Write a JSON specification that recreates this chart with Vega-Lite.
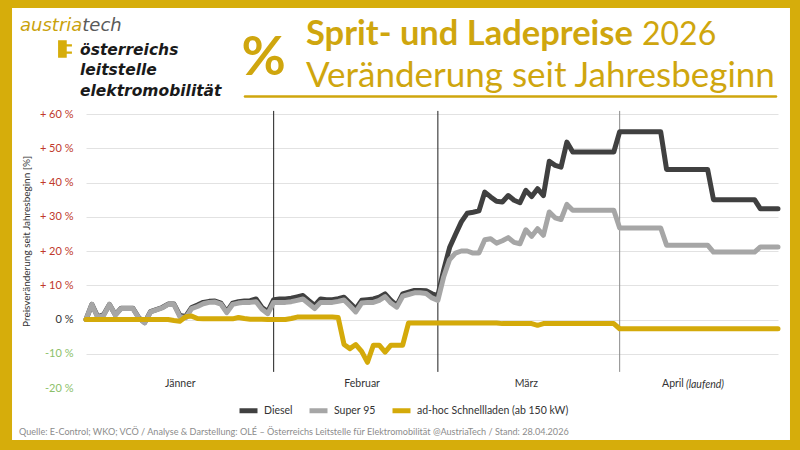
{
"$schema": "https://vega.github.io/schema/vega-lite/v6.json",
"width": 692, "height": 274,
"autosize": {"type": "none"},
"padding": {"left": 86, "top": 114, "right": 22, "bottom": 62},
"background": "white",
"config": {"view": {"stroke": null}, "font": "Lato", "axis": {"labelOverlap": false}},
"resolve": {"axis": {"x": "independent", "y": "independent"}, "scale": {"x": "shared", "y": "shared"}},
"datasets": {"preise": [
{"Tag":0,"Diesel":0,"Super":0,"Laden":0},
{"Tag":1,"Diesel":4.4,"Super":4.4,"Laden":0},
{"Tag":2,"Diesel":0.8,"Super":0.6,"Laden":0},
{"Tag":3,"Diesel":1.4,"Super":1.2,"Laden":0},
{"Tag":4,"Diesel":4.4,"Super":4.4,"Laden":0},
{"Tag":5,"Diesel":1.4,"Super":1.3,"Laden":0},
{"Tag":6,"Diesel":3.3,"Super":3.2,"Laden":0},
{"Tag":7,"Diesel":3.3,"Super":3.2,"Laden":0},
{"Tag":8,"Diesel":3.3,"Super":3.2,"Laden":0},
{"Tag":9,"Diesel":0.5,"Super":0.4,"Laden":0},
{"Tag":10,"Diesel":-0.9,"Super":-1.0,"Laden":0},
{"Tag":11,"Diesel":2.3,"Super":2.2,"Laden":0},
{"Tag":12,"Diesel":2.9,"Super":2.8,"Laden":0},
{"Tag":13,"Diesel":3.5,"Super":3.4,"Laden":0},
{"Tag":14,"Diesel":4.5,"Super":4.4,"Laden":0},
{"Tag":15,"Diesel":4.5,"Super":4.4,"Laden":-0.3},
{"Tag":16,"Diesel":1.2,"Super":0.8,"Laden":-0.5},
{"Tag":17,"Diesel":0.9,"Super":0.5,"Laden":0.8},
{"Tag":18,"Diesel":3.5,"Super":3.2,"Laden":1.0},
{"Tag":19,"Diesel":4.2,"Super":3.8,"Laden":0.3},
{"Tag":20,"Diesel":5.0,"Super":4.6,"Laden":0.2},
{"Tag":21,"Diesel":5.3,"Super":5.0,"Laden":0.2},
{"Tag":22,"Diesel":5.4,"Super":5.1,"Laden":0.2},
{"Tag":23,"Diesel":4.8,"Super":4.5,"Laden":0.2},
{"Tag":24,"Diesel":2.3,"Super":2.0,"Laden":0.2},
{"Tag":25,"Diesel":4.8,"Super":4.4,"Laden":0.2},
{"Tag":26,"Diesel":5.2,"Super":4.8,"Laden":0.6},
{"Tag":27,"Diesel":5.4,"Super":5.0,"Laden":0.3},
{"Tag":28,"Diesel":5.5,"Super":5.0,"Laden":0.1},
{"Tag":29,"Diesel":6.0,"Super":5.2,"Laden":0.1},
{"Tag":30,"Diesel":3.5,"Super":3.0,"Laden":0.1},
{"Tag":31,"Diesel":2.3,"Super":1.7,"Laden":0},
{"Tag":32,"Diesel":5.8,"Super":5.0,"Laden":0},
{"Tag":33,"Diesel":6.0,"Super":5.0,"Laden":0},
{"Tag":34,"Diesel":6.0,"Super":5.0,"Laden":0},
{"Tag":35,"Diesel":6.2,"Super":5.2,"Laden":0.3},
{"Tag":36,"Diesel":6.6,"Super":5.6,"Laden":0.7},
{"Tag":37,"Diesel":7.0,"Super":6.0,"Laden":0.7},
{"Tag":38,"Diesel":5.5,"Super":4.6,"Laden":0.7},
{"Tag":39,"Diesel":4.1,"Super":3.2,"Laden":0.7},
{"Tag":40,"Diesel":6.0,"Super":5.0,"Laden":0.7},
{"Tag":41,"Diesel":5.8,"Super":5.0,"Laden":0.7},
{"Tag":42,"Diesel":5.8,"Super":5.0,"Laden":0.7},
{"Tag":43,"Diesel":6.1,"Super":5.3,"Laden":0.6},
{"Tag":44,"Diesel":6.5,"Super":5.7,"Laden":-7.3},
{"Tag":45,"Diesel":4.8,"Super":4.0,"Laden":-8.5},
{"Tag":46,"Diesel":3.1,"Super":2.2,"Laden":-7.3},
{"Tag":47,"Diesel":5.6,"Super":4.8,"Laden":-9.3},
{"Tag":48,"Diesel":5.8,"Super":5.0,"Laden":-12.5},
{"Tag":49,"Diesel":6.0,"Super":5.0,"Laden":-7.5},
{"Tag":50,"Diesel":6.5,"Super":5.6,"Laden":-7.5},
{"Tag":51,"Diesel":7.5,"Super":6.7,"Laden":-9.5},
{"Tag":52,"Diesel":5.6,"Super":4.8,"Laden":-7.5},
{"Tag":53,"Diesel":4.1,"Super":3.6,"Laden":-7.5},
{"Tag":54,"Diesel":7.5,"Super":6.8,"Laden":-7.5},
{"Tag":55,"Diesel":8.0,"Super":7.3,"Laden":-1.0},
{"Tag":56,"Diesel":8.5,"Super":7.8,"Laden":-1.0},
{"Tag":57,"Diesel":8.5,"Super":7.8,"Laden":-1.0},
{"Tag":58,"Diesel":8.4,"Super":7.6,"Laden":-1.0},
{"Tag":59,"Diesel":7.5,"Super":6.3,"Laden":-1.0},
{"Tag":60,"Diesel":7.0,"Super":5.6,"Laden":-1.0},
{"Tag":61,"Diesel":14.5,"Super":12.5,"Laden":-1.0},
{"Tag":62,"Diesel":21.0,"Super":17.5,"Laden":-1.0},
{"Tag":63,"Diesel":24.8,"Super":19.4,"Laden":-1.0},
{"Tag":64,"Diesel":28.5,"Super":20.0,"Laden":-1.0},
{"Tag":65,"Diesel":31.0,"Super":20.0,"Laden":-1.0},
{"Tag":66,"Diesel":31.3,"Super":19.4,"Laden":-1.0},
{"Tag":67,"Diesel":31.7,"Super":19.4,"Laden":-1.0},
{"Tag":68,"Diesel":37.2,"Super":23.3,"Laden":-1.0},
{"Tag":69,"Diesel":35.8,"Super":23.6,"Laden":-1.0},
{"Tag":70,"Diesel":34.5,"Super":22.3,"Laden":-1.0},
{"Tag":71,"Diesel":34.3,"Super":23.0,"Laden":-1.2},
{"Tag":72,"Diesel":36.2,"Super":23.9,"Laden":-1.2},
{"Tag":73,"Diesel":34.8,"Super":22.5,"Laden":-1.2},
{"Tag":74,"Diesel":34.1,"Super":22.1,"Laden":-1.2},
{"Tag":75,"Diesel":37.7,"Super":26.2,"Laden":-1.2},
{"Tag":76,"Diesel":35.9,"Super":24.3,"Laden":-1.2},
{"Tag":77,"Diesel":38.2,"Super":26.5,"Laden":-1.7},
{"Tag":78,"Diesel":36.2,"Super":24.6,"Laden":-1.2},
{"Tag":79,"Diesel":46.2,"Super":31.4,"Laden":-1.2},
{"Tag":80,"Diesel":45.0,"Super":29.7,"Laden":-1.2},
{"Tag":81,"Diesel":44.5,"Super":29.2,"Laden":-1.2},
{"Tag":82,"Diesel":51.8,"Super":33.6,"Laden":-1.2},
{"Tag":83,"Diesel":48.9,"Super":31.9,"Laden":-1.2},
{"Tag":84,"Diesel":48.9,"Super":31.9,"Laden":-1.2},
{"Tag":85,"Diesel":48.9,"Super":31.9,"Laden":-1.2},
{"Tag":86,"Diesel":48.9,"Super":31.9,"Laden":-1.2},
{"Tag":87,"Diesel":48.9,"Super":31.9,"Laden":-1.2},
{"Tag":88,"Diesel":48.9,"Super":31.9,"Laden":-1.2},
{"Tag":89,"Diesel":48.9,"Super":31.9,"Laden":-1.2},
{"Tag":90,"Diesel":48.9,"Super":31.9,"Laden":-1.2},
{"Tag":91,"Diesel":54.8,"Super":26.7,"Laden":-2.7},
{"Tag":92,"Diesel":54.8,"Super":26.7,"Laden":-2.7},
{"Tag":93,"Diesel":54.8,"Super":26.7,"Laden":-2.7},
{"Tag":94,"Diesel":54.8,"Super":26.7,"Laden":-2.7},
{"Tag":95,"Diesel":54.8,"Super":26.7,"Laden":-2.7},
{"Tag":96,"Diesel":54.8,"Super":26.7,"Laden":-2.7},
{"Tag":97,"Diesel":54.8,"Super":26.7,"Laden":-2.7},
{"Tag":98,"Diesel":54.8,"Super":26.7,"Laden":-2.7},
{"Tag":99,"Diesel":43.8,"Super":21.7,"Laden":-2.7},
{"Tag":100,"Diesel":43.8,"Super":21.7,"Laden":-2.7},
{"Tag":101,"Diesel":43.8,"Super":21.7,"Laden":-2.7},
{"Tag":102,"Diesel":43.8,"Super":21.7,"Laden":-2.7},
{"Tag":103,"Diesel":43.8,"Super":21.7,"Laden":-2.7},
{"Tag":104,"Diesel":43.8,"Super":21.7,"Laden":-2.7},
{"Tag":105,"Diesel":43.8,"Super":21.7,"Laden":-2.7},
{"Tag":106,"Diesel":43.8,"Super":21.7,"Laden":-2.7},
{"Tag":107,"Diesel":35.0,"Super":19.7,"Laden":-2.7},
{"Tag":108,"Diesel":35.0,"Super":19.7,"Laden":-2.7},
{"Tag":109,"Diesel":35.0,"Super":19.7,"Laden":-2.7},
{"Tag":110,"Diesel":35.0,"Super":19.7,"Laden":-2.7},
{"Tag":111,"Diesel":35.0,"Super":19.7,"Laden":-2.7},
{"Tag":112,"Diesel":35.0,"Super":19.7,"Laden":-2.7},
{"Tag":113,"Diesel":35.0,"Super":19.7,"Laden":-2.7},
{"Tag":114,"Diesel":35.0,"Super":19.7,"Laden":-2.7},
{"Tag":115,"Diesel":32.3,"Super":21.2,"Laden":-2.7},
{"Tag":116,"Diesel":32.3,"Super":21.2,"Laden":-2.7},
{"Tag":117,"Diesel":32.3,"Super":21.2,"Laden":-2.7},
{"Tag":118,"Diesel":32.3,"Super":21.2,"Laden":-2.7}
]},
"layer": [
{"data": {"values": [{}]},
 "mark": {"type": "rect", "filled": false, "stroke": "#D6AD0B", "strokeWidth": 20, "fillOpacity": 0},
 "encoding": {"x": {"datum": -14.32, "axis": null}, "x2": {"datum": 121.75}, "y": {"datum": 93.87, "axis": null}, "y2": {"datum": -38.1}}},
{"data": {"values": [{"Tag": 32}, {"Tag": 60}, {"Tag": 91}]},
 "mark": {"type": "rule", "strokeWidth": 1},
 "encoding": {"x": {"field": "Tag", "type": "quantitative", "axis": null}, "y": {"datum": 60.9, "axis": null}, "y2": {"datum": -15.3},
   "stroke": {"condition": {"test": "datum.Tag === 91", "value": "#8a8a8a"}, "value": "#1e1e1e"}}},
{"data": {"name": "preise"},
 "transform": [{"fold": ["Diesel", "Super", "Laden"], "as": ["Serie", "Wert"]}],
 "mark": {"type": "line", "strokeJoin": "round", "strokeCap": "round"},
 "encoding": {
   "x": {"field": "Tag", "type": "quantitative", "scale": {"domain": [0, 118], "nice": false, "zero": false},
     "axis": {"values": [16, 47, 75, 100], "labelExpr": "datum.value == 16 ? 'Jänner' : datum.value == 47 ? 'Februar' : datum.value == 75 ? 'März' : 'April'",
       "domain": false, "ticks": false, "tickSize": 0, "grid": false, "labelPadding": -10, "labelFontSize": 10.5, "labelColor": "#333333",
       "title": null, "labelFlush": false, "labelOverlap": false, "labelBound": false}},
   "y": {"field": "Wert", "type": "quantitative", "scale": {"domain": [-20, 60], "nice": false},
     "axis": {"values": [-20, -10, 0, 10, 20, 30, 40, 50, 60], "tickCount": 9,
       "labelExpr": "datum.value > 0 ? '+ ' + datum.value + ' %' : datum.value + ' %'",
       "labelColor": {"condition": [{"test": "datum.value > 0", "value": "#c0392b"}, {"test": "datum.value < 0", "value": "#8cbf6a"}], "value": "#333333"},
       "domain": false, "ticks": false, "grid": true, "gridColor": "#e2e2e2", "gridWidth": 1,
       "gridOpacity": {"condition": {"test": "datum.value === -20", "value": 0}, "value": 1},
       "labelPadding": 13, "labelFontSize": 11, "labelOverlap": false, "labelBound": false, "labelFlush": false,
       "title": "Preisveränderung seit Jahresbeginn [%]", "titleFontSize": 10, "titleFontWeight": "normal", "titleColor": "#333333",
       "titleX": -60, "titleY": 127, "titleAngle": -90, "titleBaseline": "middle", "titleAlign": "center"}},
   "color": {"field": "Serie", "type": "nominal",
     "scale": {"domain": ["Diesel", "Super", "Laden"], "range": ["#404040", "#a6a6a6", "#D4AA0A"]},
     "legend": {"orient": "none", "legendX": 151, "legendY": 285, "direction": "horizontal", "title": null,
       "symbolType": "stroke", "symbolStrokeWidth": 5, "symbolSize": 324, "labelFontSize": 10.5, "labelColor": "#333333",
       "columnPadding": 6, "labelOffset": 4, "padding": 0,
       "labelExpr": "datum.label == 'Super' ? 'Super 95' : datum.label == 'Laden' ? 'ad-hoc Schnellladen (ab 150 kW)' : datum.label"}},
   "strokeWidth": {"field": "Serie", "type": "ordinal", "scale": {"domain": ["Diesel", "Super", "Laden"], "range": [5, 5, 4]}, "legend": null},
   "order": {"field": "Tag", "type": "quantitative"}
 }},
{"data": {"values": [{}]},
 "mark": {"type": "text", "text": "(laufend)", "fontStyle": "italic", "fontSize": 10.5, "color": "#333333", "align": "left", "baseline": "middle"},
 "encoding": {"x": {"datum": 102.3, "axis": null}, "y": {"datum": -19.12, "axis": null}}},
{"data": {"values": [{}]},
 "mark": {"type": "text", "text": "austria", "font": "DejaVu Sans", "fontStyle": "italic", "fontSize": 18, "color": "#C9A20C", "align": "left", "baseline": "alphabetic"},
 "encoding": {"x": {"datum": -11.25, "axis": null}, "y": {"datum": 84.23, "axis": null}}},
{"data": {"values": [{}]},
 "mark": {"type": "text", "text": "tech", "font": "DejaVu Sans", "fontStyle": "italic", "fontSize": 18, "color": "#5a5a5a", "align": "left", "baseline": "alphabetic"},
 "encoding": {"x": {"datum": -0.63, "axis": null}, "y": {"datum": 84.23, "axis": null}}},
{"data": {"values": [{}]},
 "mark": {"type": "point", "filled": true, "color": "#D6AD0B", "opacity": 1, "size": 300,
   "shape": "M-0.8,-1H0.2V-0.55H0.8V-0.3H0.2V0.3H0.8V0.55H0.2V1H-0.8Z"},
 "encoding": {"x": {"datum": -3.58, "axis": null}, "y": {"datum": 78.98, "axis": null}}},
{"data": {"values": [{}]},
 "mark": {"type": "text", "text": "österreichs", "font": "DejaVu Sans", "fontStyle": "italic", "fontWeight": "bold", "fontSize": 15.5, "color": "#1a1a1a", "align": "left", "baseline": "alphabetic"},
 "encoding": {"x": {"datum": -1.02, "axis": null}, "y": {"datum": 77.23, "axis": null}}},
{"data": {"values": [{}]},
 "mark": {"type": "text", "text": "leitstelle", "font": "DejaVu Sans", "fontStyle": "italic", "fontWeight": "bold", "fontSize": 15.5, "color": "#1a1a1a", "align": "left", "baseline": "alphabetic"},
 "encoding": {"x": {"datum": -1.02, "axis": null}, "y": {"datum": 71.39, "axis": null}}},
{"data": {"values": [{}]},
 "mark": {"type": "text", "text": "elektromobilität", "font": "DejaVu Sans", "fontStyle": "italic", "fontWeight": "bold", "fontSize": 15.5, "color": "#1a1a1a", "align": "left", "baseline": "alphabetic"},
 "encoding": {"x": {"datum": -1.02, "axis": null}, "y": {"datum": 65.26, "axis": null}}},
{"data": {"values": [{}]},
 "mark": {"type": "text", "text": "%", "fontWeight": "bold", "fontSize": 54, "color": "#CFA60E", "align": "center", "baseline": "alphabetic"},
 "encoding": {"x": {"datum": 30.3, "axis": null}, "y": {"datum": 71.39, "axis": null}}},
{"data": {"values": [{}]},
 "mark": {"type": "text", "text": "Sprit- und Ladepreise", "fontWeight": "bold", "fontSize": 34.5, "color": "#CFA60E", "align": "left", "baseline": "alphabetic"},
 "encoding": {"x": {"datum": 37.51, "axis": null}, "y": {"datum": 80.15, "axis": null}}},
{"data": {"values": [{}]},
 "mark": {"type": "text", "text": "2026", "fontSize": 32, "color": "#CFA60E", "align": "left", "baseline": "alphabetic"},
 "encoding": {"x": {"datum": 94.81, "axis": null}, "y": {"datum": 80.15, "axis": null}}},
{"data": {"values": [{}]},
 "mark": {"type": "text", "text": "Veränderung seit Jahresbeginn", "fontSize": 35, "color": "#CFA60E", "align": "left", "baseline": "alphabetic"},
 "encoding": {"x": {"datum": 37.51, "axis": null}, "y": {"datum": 67.88, "axis": null}}},
{"data": {"values": [{}]},
 "mark": {"type": "rule", "color": "#CFA60E", "strokeWidth": 2.5, "strokeCap": "round"},
 "encoding": {"x": {"datum": 27.11, "axis": null}, "x2": {"datum": 117.66}, "y": {"datum": 65.11, "axis": null}}},
{"data": {"values": [{}]},
 "mark": {"type": "text", "text": "Quelle: E-Control; WKO; VCÖ / Analyse & Darstellung: OLÉ – Österreichs Leitstelle für Elektromobilität @AustriaTech / Stand: 28.04.2026", "fontSize": 9.1, "color": "#8c8c8c", "align": "left", "baseline": "alphabetic"},
 "encoding": {"x": {"datum": -11.42, "axis": null}, "y": {"datum": -33.72, "axis": null}}}
]
}
